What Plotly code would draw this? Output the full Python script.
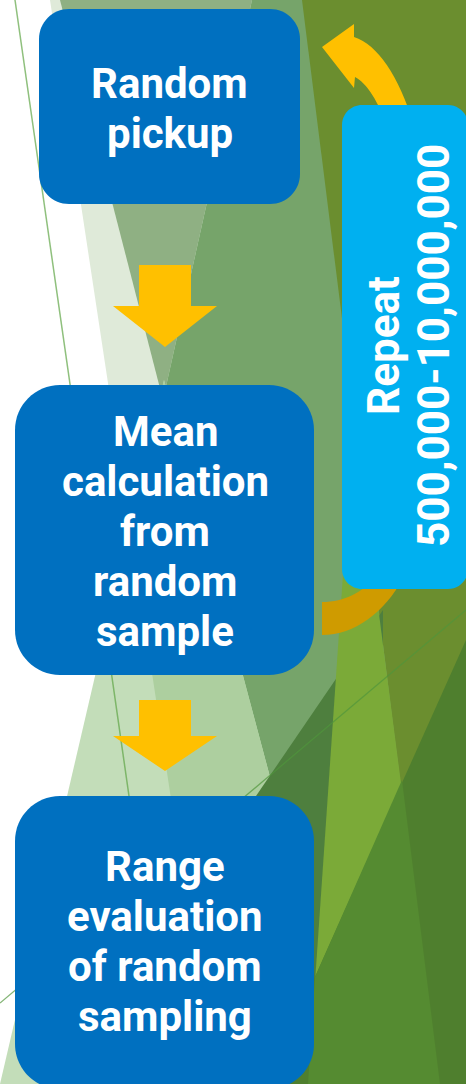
import plotly.graph_objects as go

# ---------------- data (texts) ----------------
box1_lines = ["Random", "pickup"]
box2_lines = ["Mean", "calculation", "from", "random", "sample"]
box3_lines = ["Range", "evaluation", "of random", "sampling"]
repeat_lines = ["Repeat", "500,000-10,000,000"]

# ---------------- layout geometry (pixels, y downward) ----------------
W, H = 466, 1084
FONT = "Roboto"
FS = 42
FS_REP = 44
LINE_GAP = 50
BASE_OFF = 14  # baseline -> text middle

BLUE = "#0070C0"
CYAN = "#00B0F0"
YELLOW = "#FFC000"
DARK_YELLOW = "#CF9B00"


def poly(pts):
    return "M " + " L ".join(f"{x},{y}" for x, y in pts) + " Z"


def rrect(x0, y0, x1, y1, r):
    k = 0.5523 * r
    return (f"M {x0 + r},{y0} L {x1 - r},{y0} "
            f"C {x1 - r + k},{y0} {x1},{y0 + r - k} {x1},{y0 + r} "
            f"L {x1},{y1 - r} "
            f"C {x1},{y1 - r + k} {x1 - r + k},{y1} {x1 - r},{y1} "
            f"L {x0 + r},{y1} "
            f"C {x0 + r - k},{y1} {x0},{y1 - r + k} {x0},{y1 - r} "
            f"L {x0},{y0 + r} "
            f"C {x0},{y0 + r - k} {x0 + r - k},{y0} {x0 + r},{y0} Z")


def down_arrow(cx, top, head_y, tip, shaft_w, head_w):
    return poly([(cx - shaft_w / 2, top), (cx + shaft_w / 2, top), (cx + shaft_w / 2, head_y),
                 (cx + head_w / 2, head_y), (cx, tip), (cx - head_w / 2, head_y),
                 (cx - shaft_w / 2, head_y)])


shapes = []


def add_path(path, color, line_color=None, line_w=0):
    shapes.append(dict(type="path", path=path, xref="x", yref="y", fillcolor=color,
                       line=dict(width=line_w, color=line_color or color)))


# background facets
add_path(poly([(290, 0), (466, 0), (466, 1084), (290, 1084)]), "#6B8E2F")
add_path(poly([(50, 0), (260, 0), (260, 720), (159, 720)]), "#DFEAD9")
add_path(poly([(60, 0), (252, 0), (163, 400)]), "#8FB083")
add_path(poly([(252, 0), (302, 0), (400, 780), (268, 780), (163, 400)]), "#76A46A")
add_path(poly([(164, 380), (352, 1084), (0, 1084)]), "#C3DDB9")
add_path(poly([(164, 380), (352, 1084), (214, 1084), (130, 527)]), "#ADCF9F")
add_path(poly([(383, 610), (256, 796), (256, 1084), (383, 1084)]), "#4E7F3E")
add_path(poly([(344, 560), (372, 560), (440, 1084), (308, 1084)]), "#7BAA38")
add_path(poly([(466, 640), (466, 1084), (267, 1084)]), "#4F7F2E")
add_path(poly([(402, 780), (440, 1084), (308, 1084), (315, 977)]), "#558B31")

# thin decorative lines
shapes.append(dict(type="line", x0=15, y0=0, x1=129, y1=796, xref="x", yref="y",
                   line=dict(color="rgba(95,165,70,0.7)", width=1.5)))
shapes.append(dict(type="line", x0=0, y0=1003, x1=466, y1=610, xref="x", yref="y",
                   line=dict(color="rgba(80,150,60,0.7)", width=1.3)))

# down arrows
add_path(down_arrow(165, 265, 306, 347, 52, 104), YELLOW)
add_path(down_arrow(165, 700, 736, 771, 52, 104), YELLOW)

# curved return arrow (lower dark part and upper part with head)
add_path("M 322,602 C 345,602 362,592 375,578 L 403,578 C 385,612 355,635 322,635 Z", DARK_YELLOW)
add_path("M 386,125 C 380,104 366,82 355,77 L 354,88 L 322,47 L 354,24 L 354,37 "
         "C 378,45 398,75 414,125 Z", YELLOW)

# boxes
add_path(rrect(39, 9, 300, 204, 30), BLUE)
add_path(rrect(15, 385, 314, 675, 45), BLUE)
add_path(rrect(15, 796, 314, 1089, 45), BLUE)
add_path(rrect(342, 105, 468, 589, 20), CYAN)

annotations = []


def add_lines(lines, cx, first_baseline):
    for i, t in enumerate(lines):
        annotations.append(dict(x=cx, y=first_baseline + i * LINE_GAP - BASE_OFF, xref="x", yref="y",
                                text=t, showarrow=False, xanchor="center", yanchor="middle",
                                font=dict(family=FONT, size=FS, color="white", weight="bold")))


add_lines(box1_lines, 169.5, 97)
add_lines(box2_lines, 165, 445)
add_lines(box3_lines, 164.5, 880)

for i, t in enumerate(repeat_lines):
    annotations.append(dict(x=398 + i * LINE_GAP - BASE_OFF, y=346, xref="x", yref="y",
                            text=t, showarrow=False, textangle=-90,
                            xanchor="center", yanchor="middle",
                            font=dict(family=FONT, size=FS_REP, color="white", weight="bold")))

fig = go.Figure()
fig.update_layout(
    width=W, height=H,
    margin=dict(l=0, r=0, t=0, b=0),
    paper_bgcolor="white", plot_bgcolor="white",
    xaxis=dict(range=[0, W], visible=False, fixedrange=True),
    yaxis=dict(range=[H, 0], visible=False, fixedrange=True),
    shapes=shapes, annotations=annotations,
    showlegend=False,
)
fig.write_html("out.html", config={"displayModeBar": False},
               post_script="document.body.style.margin='0';")
